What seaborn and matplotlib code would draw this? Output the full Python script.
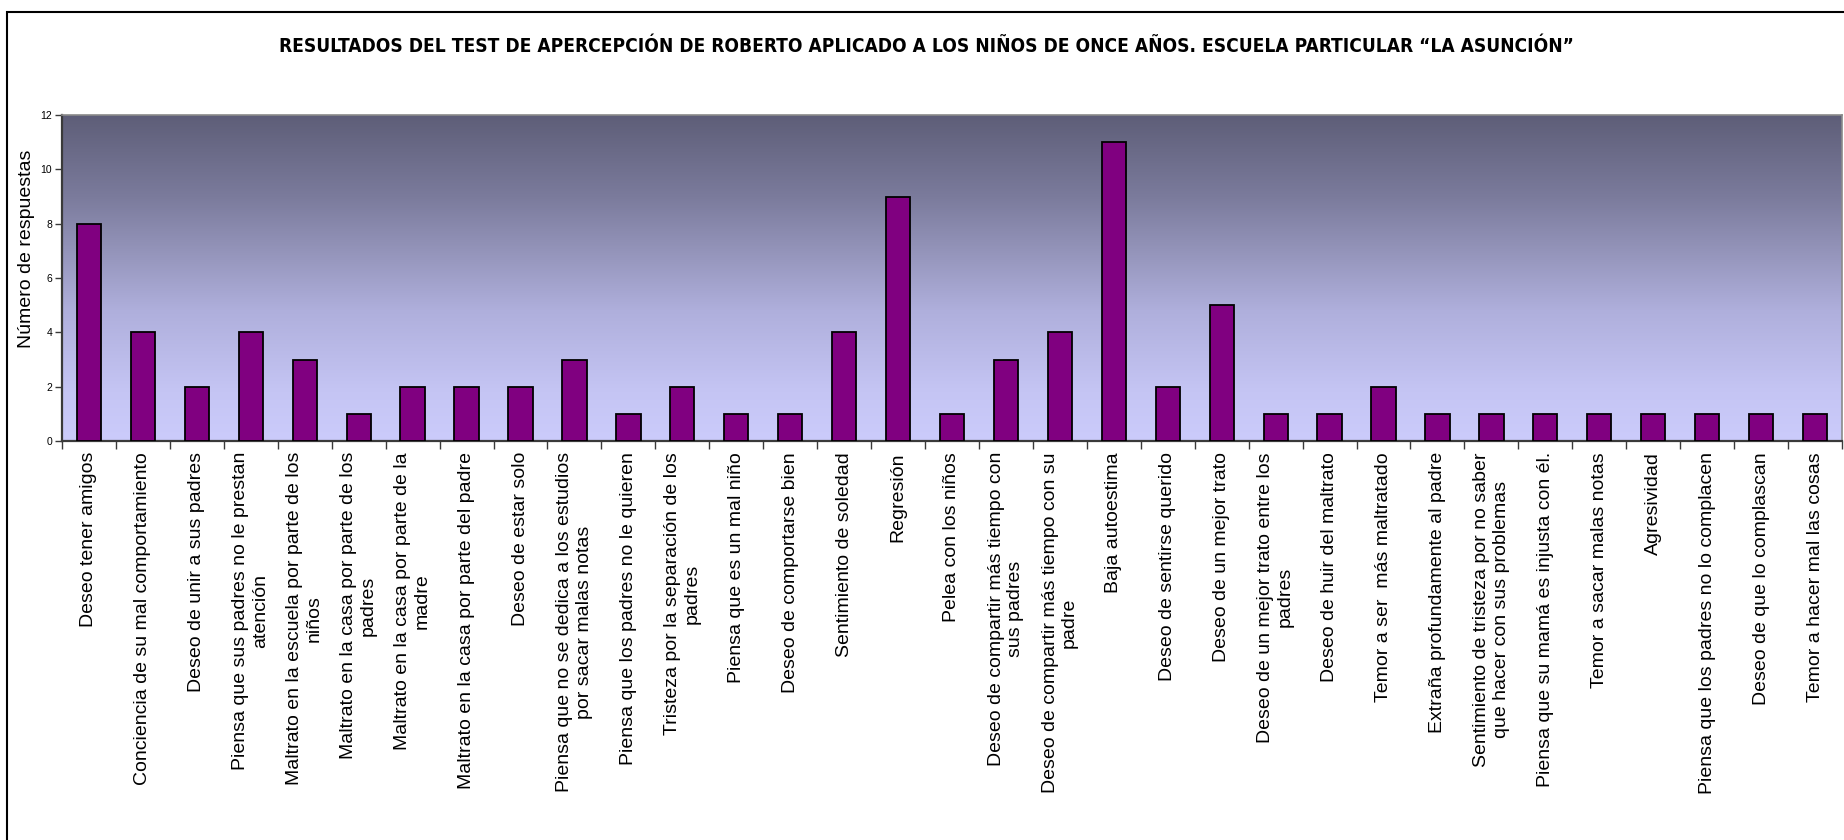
import numpy as np
import pandas as pd
import matplotlib
matplotlib.use("Agg")
import matplotlib.pyplot as plt
from matplotlib import font_manager
from matplotlib.colors import LinearSegmentedColormap
from matplotlib.patches import Rectangle
import seaborn as sns

# Categories (line breaks give the two-line wrapped labels)
categories = [
    "Deseo tener amigos",
    "Conciencia de su mal comportamiento",
    "Deseo de unir a sus padres",
    "Piensa que sus padres no le prestan\natención",
    "Maltrato en la escuela por parte de los\nniños",
    "Maltrato en la casa por parte de los\npadres",
    "Maltrato en la casa por parte de la\nmadre",
    "Maltrato en la casa por parte del padre",
    "Deseo de estar solo",
    "Piensa que no se dedica a los estudios\npor sacar malas notas",
    "Piensa que los padres no le quieren",
    "Tristeza por la separación de los\npadres",
    "Piensa que es un mal niño",
    "Deseo de comportarse bien",
    "Sentimiento de soledad",
    "Regresión",
    "Pelea con los niños",
    "Deseo de compartir más tiempo con\nsus padres",
    "Deseo de compartir más tiempo con su\npadre",
    "Baja autoestima",
    "Deseo de sentirse querido",
    "Deseo de un mejor trato",
    "Deseo de un mejor trato entre los\npadres",
    "Deseo de huir del maltrato",
    "Temor a ser  más maltratado",
    "Extraña profundamente al padre",
    "Sentimiento de tristeza por no saber\nque hacer con sus problemas",
    "Piensa que su mamá es injusta con él.",
    "Temor a sacar malas notas",
    "Agresividad",
    "Piensa que los padres no lo complacen",
    "Deseo de que lo complascan",
    "Temor a hacer mal las cosas",
]
respuestas = [8, 4, 2, 4, 3, 1, 2, 2, 2, 3, 1, 2, 1, 1, 4, 9, 1, 3, 4, 11,
              2, 5, 1, 1, 2, 1, 1, 1, 1, 1, 1, 1, 1]
y_ticks = [0, 2, 4, 6, 8, 10, 12]

title = ("RESULTADOS DEL TEST DE APERCEPCIÓN DE ROBERTO APLICADO A LOS NIÑOS "
         "DE ONCE AÑOS. ESCUELA PARTICULAR \u201cLA ASUNCIÓN\u201d")
y_label = "Número de respuestas"

sns.set_style("white")
plt.rcParams["font.family"] = ["Liberation Sans", "DejaVu Sans"]
plt.rcParams["text.color"] = "black"
plt.rcParams["axes.labelcolor"] = "black"
plt.rcParams["xtick.color"] = "black"
plt.rcParams["ytick.color"] = "black"

# Prefer a narrow/condensed bold face for the title when one is installed
title_kw = dict(family=["Liberation Sans", "DejaVu Sans"])
for f in font_manager.fontManager.ttflist:
    name = f.name.lower()
    if "narrow" in name or "condensed" in name:
        title_kw = dict(family=[f.name, "DejaVu Sans"])
        break
    if f.stretch in ("condensed", "semi-condensed"):
        title_kw = dict(family=[f.name, "DejaVu Sans"], fontstretch="condensed")
        break

df = pd.DataFrame({"categoria": categories, "respuestas": respuestas})

fig = plt.figure(figsize=(18.44, 8.40), dpi=100)
ax = fig.add_axes([62 / 1844, 1 - 441 / 840, (1842 - 62) / 1844, (441 - 115) / 840])

sns.barplot(data=df, x="categoria", y="respuestas", color="#800080",
            saturation=1, edgecolor="black", linewidth=1.3, width=0.45,
            ax=ax, zorder=3)

n = len(categories)
ax.set_xlim(-0.5, n - 0.5)
ax.set_ylim(0, 12)

# Vertical gradient fill of the plotting area
grad_cmap = LinearSegmentedColormap.from_list(
    "fondo", [(0.0, "#cbcbfb"), (0.15, "#c5c5f4"), (0.40, "#afafdc"),
              (0.55, "#9999c0"), (0.75, "#7b7b9c"), (1.0, "#5e5e78")])
grad = np.linspace(0, 1, 256).reshape(-1, 1)
ax.imshow(grad, cmap=grad_cmap, origin="lower", aspect="auto",
          extent=[-0.5, n - 0.5, 0, 12], zorder=0)

# Axes styling
for side in ["left", "bottom"]:
    ax.spines[side].set_color("#3a3a3a")
    ax.spines[side].set_linewidth(1.6)
for side in ["top", "right"]:
    ax.spines[side].set_color("#8a8a8a")
    ax.spines[side].set_linewidth(1.2)

ax.set_yticks(y_ticks)
ax.set_yticklabels([str(v) for v in y_ticks], fontsize=7.5)
ax.tick_params(axis="y", direction="out", length=5, width=1, color="#3a3a3a", pad=2, left=True)

ax.set_xticks(range(n))
ax.set_xticklabels(categories, rotation=90, fontsize=14, ha="center", va="top",
                   multialignment="center")
ax.tick_params(axis="x", which="major", length=0, pad=8)
ax.set_xticks(np.arange(-0.5, n, 1.0), minor=True)
ax.tick_params(axis="x", which="minor", direction="out", length=6, width=1,
               color="#3a3a3a", bottom=True)

ax.set_xlabel("")
ax.set_ylabel(y_label, fontsize=14)
ax.yaxis.set_label_coords(-0.0152, 0.589)

# Title, sized so that it spans about 1290 px
title_text = fig.text(926 / 1844, 1 - 47 / 840, title, ha="center", va="center",
                      fontweight="bold", fontsize=16, color="black", **title_kw)
renderer = fig.canvas.get_renderer()
width_px = title_text.get_window_extent(renderer).width
title_text.set_fontsize(16 * 1290 / width_px)

# Outer chart frame
fig.patches.append(Rectangle((7 / 1844, -0.1), 1.2, 1.1 - 12 / 840,
                             transform=fig.transFigure, fill=False,
                             edgecolor="black", linewidth=1.5))

fig.savefig("out.png", dpi=100, facecolor="white")
